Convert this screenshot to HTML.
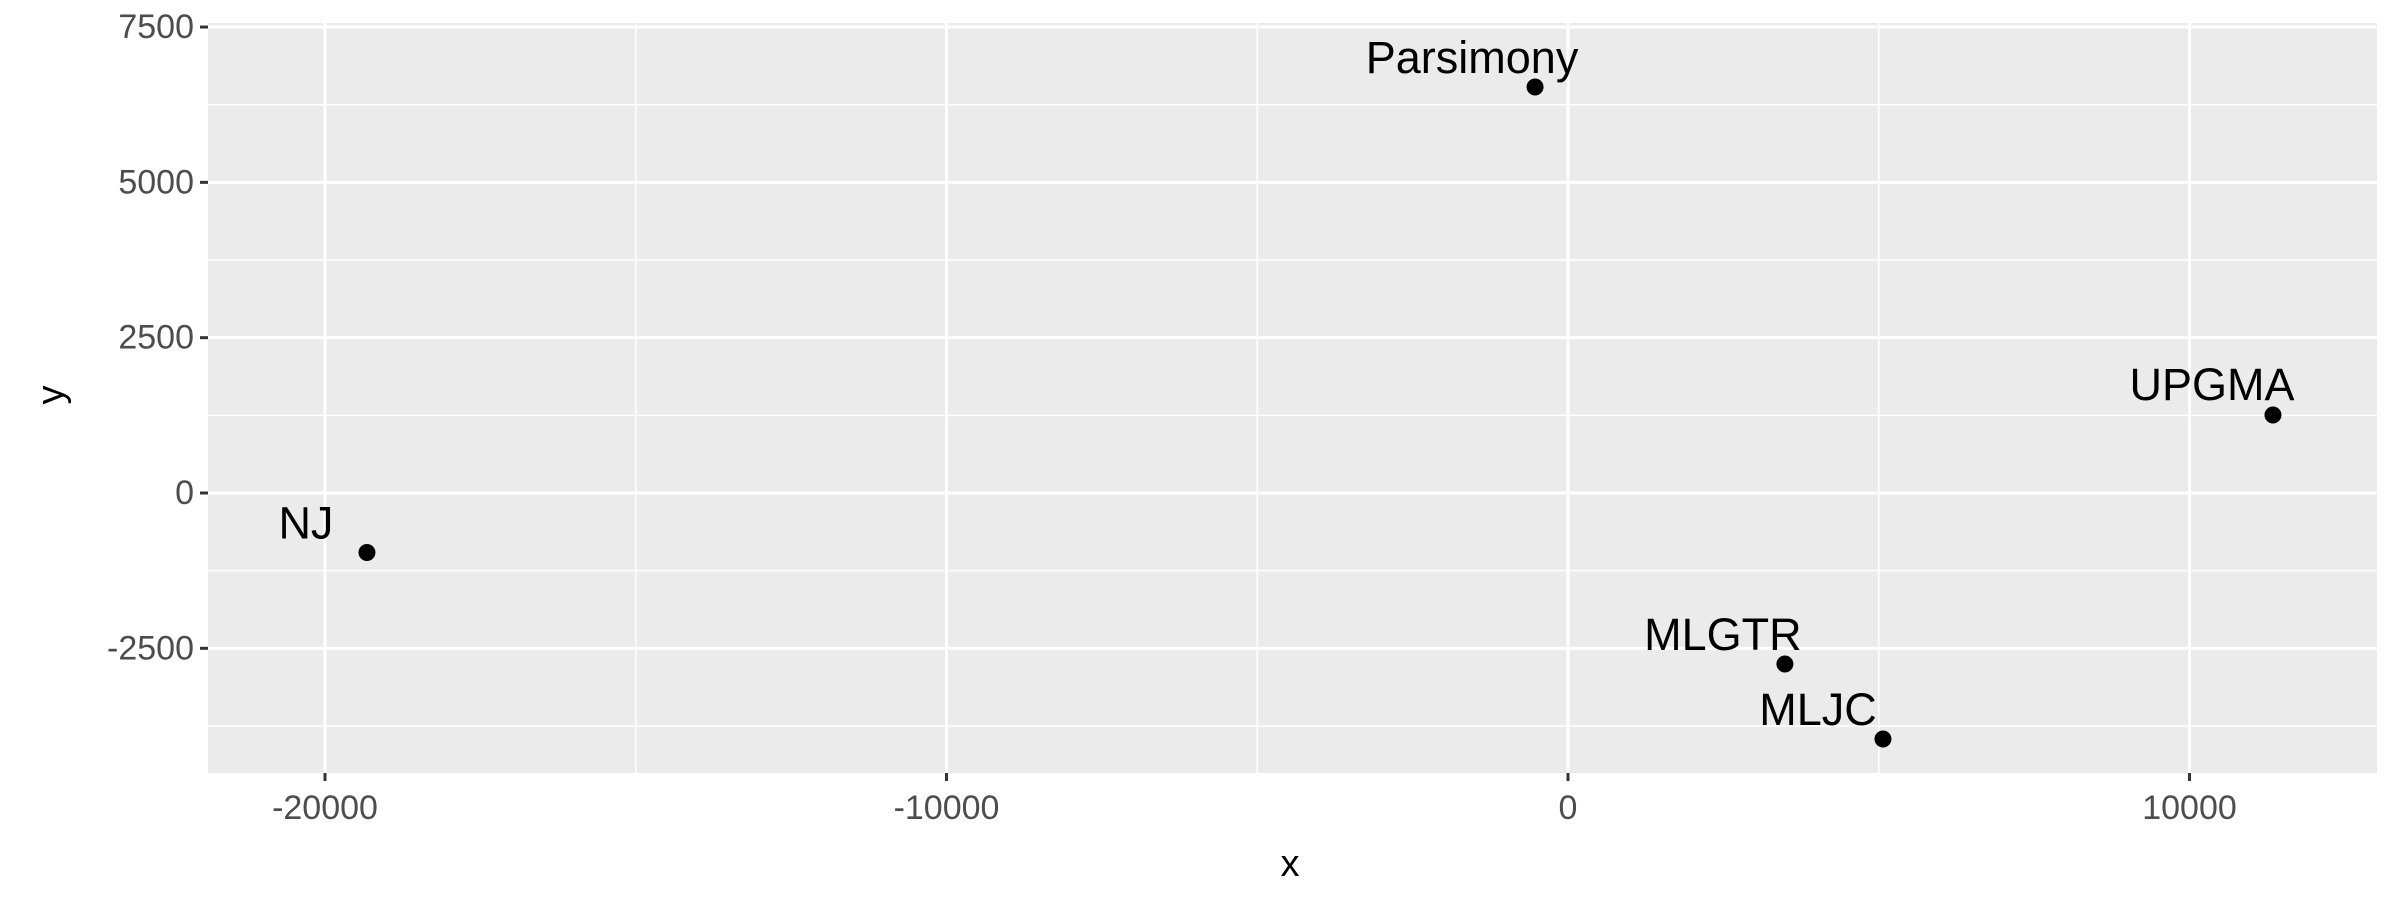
<!DOCTYPE html>
<html><head><meta charset="utf-8"><style>body{margin:0;background:#fff}svg{display:block;font-family:"Liberation Sans",sans-serif}</style></head>
<body>
<svg id="chart" width="2400" height="900" viewBox="0 0 2400 900" xmlns="http://www.w3.org/2000/svg">
<rect x="208" y="23" width="2169" height="750" fill="#ebebeb"/>
<g id="grid"></g><g id="axes"></g><g id="marks"></g>
<text x="1290" y="876" font-size="38" text-anchor="middle">x</text>
<text transform="translate(63,395) rotate(-90)" font-size="38" text-anchor="middle">y</text>
</svg>
<script>
const labels = ["NJ","Parsimony","UPGMA","MLGTR","MLJC"];
const xs = [-19325,-530,11343,3490,5068];
const ys = [-958,6535,1255,-2752,-3960];
const xTicks = [-20000,-10000,0,10000];
const yTicks = [-2500,0,2500,5000,7500];
const labelDx = [-61,-63,-61,-62,-65];
const labelDy = [-26,-26,-27,-26,-26];
const NS="http://www.w3.org/2000/svg";
const L=208,R=2377,T=23,B=773;
const sx=v=>1568+v*0.06215;
const sy=v=>493-v*0.06213;
function mk(tag,attrs,parent,txt){const e=document.createElementNS(NS,tag);for(const k in attrs)e.setAttribute(k,attrs[k]);if(txt!==undefined)e.textContent=txt;parent.appendChild(e);return e;}
const grid=document.getElementById('grid'),axes=document.getElementById('axes'),marks=document.getElementById('marks');
for(let i=0;i<xTicks.length+1;i++){const v=(i<xTicks.length?xTicks[i]:xTicks[xTicks.length-1]+10000)-5000;const x=sx(v);if(x>L&&x<R){const l=mk('line',{x1:x,x2:x,y1:T,y2:B,stroke:'#fff','stroke-width':1.5},grid);}}
for(let i=0;i<yTicks.length;i++){const v=yTicks[i]-1250;const y=sy(v);if(y>T&&y<B){const l=mk('line',{x1:L,x2:R,y1:y,y2:y,stroke:'#fff','stroke-width':1.5},grid);}}
xTicks.forEach(v=>{const x=sx(v);
const g=mk('line',{x1:x,x2:x,y1:T,y2:B,stroke:'#fff','stroke-width':3},grid);


const t=mk('line',{x1:x,x2:x,y1:B,y2:B+8,stroke:'#333','stroke-width':3},axes);


const tl=mk('text',{x:x,y:B+46,'font-size':34,fill:'#4d4d4d','text-anchor':'middle'},axes,String(v));

});
yTicks.forEach(v=>{const y=sy(v);
const g=mk('line',{x1:L,x2:R,y1:y,y2:y,stroke:'#fff','stroke-width':3},grid);


const t=mk('line',{x1:L-8,x2:L,y1:y,y2:y,stroke:'#333','stroke-width':3},axes);


const tl=mk('text',{x:L-14,y:y+11,'font-size':34,fill:'#4d4d4d','text-anchor':'end'},axes,String(v));

});
labels.forEach((n,i)=>{const x=sx(xs[i]),y=sy(ys[i]);
const c=mk('circle',{cx:x,cy:y,r:8.5,fill:'#000'},marks);


const t=mk('text',{x:x+labelDx[i],y:y+labelDy[i]+12,'font-size':45,fill:'#000','text-anchor':'middle'},marks,n);

});
</script>
</body></html>
